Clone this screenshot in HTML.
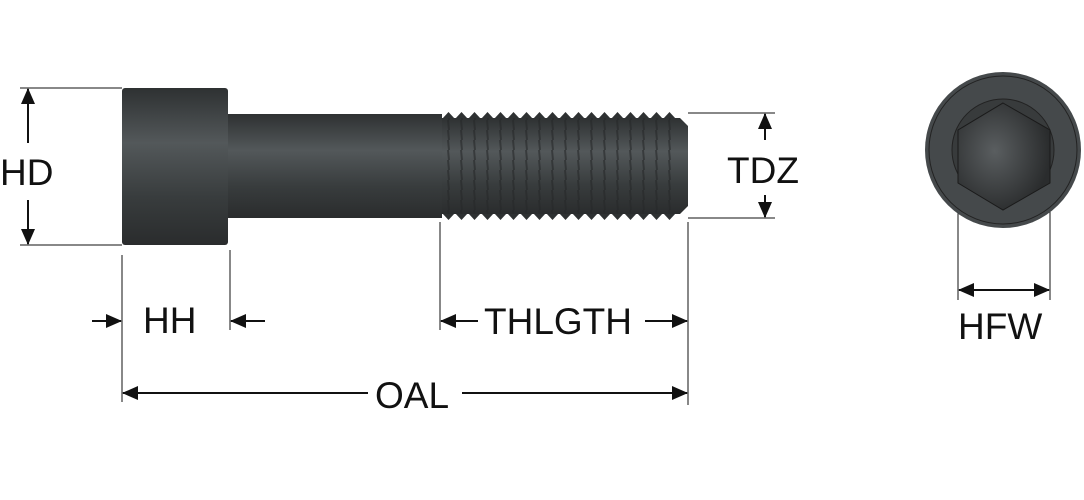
<!DOCTYPE html>
<html><head><style>
html,body{margin:0;padding:0;background:#fff;}
svg{display:block;}
text{font-family:"Liberation Sans",sans-serif;fill:#111;}
</style></head><body>
<svg width="1084" height="500" viewBox="0 0 1084 500" xmlns="http://www.w3.org/2000/svg">
<defs>
<linearGradient id="g" x1="0" y1="0" x2="0" y2="1">
<stop offset="0" stop-color="#2e3132"/><stop offset="0.35" stop-color="#53585a"/><stop offset="0.7" stop-color="#383c3d"/><stop offset="1" stop-color="#2a2c2d"/>
</linearGradient>
<pattern id="tt" x="442" y="0" width="13" height="220" patternUnits="userSpaceOnUse">
<polygon points="0,119 6.5,112 13,119" fill="#2e3132"/>
<polygon points="0,213 6.5,220 13,213" fill="#2e3132"/>
</pattern>
<pattern id="ln" x="442" y="0" width="13" height="10" patternUnits="userSpaceOnUse">
<line x1="6" y1="0" x2="7" y2="10" stroke="#262829" stroke-width="2"/>
</pattern>
<radialGradient id="rg" cx="0.4" cy="0.45" r="0.6"><stop offset="0" stop-color="#5a5e60"/><stop offset="1" stop-color="#2a2c2d"/></radialGradient>
<marker id="a" markerWidth="16" markerHeight="16" refX="15" refY="8" orient="auto" markerUnits="userSpaceOnUse"><path d="M0,1 L16,8 L0,15 z" fill="#111"/></marker>
</defs>
<rect x="122" y="88" width="106" height="157" rx="3" fill="url(#g)"/>
<rect x="228" y="114" width="214" height="104" fill="url(#g)"/>
<rect x="442" y="112" width="234" height="108" fill="url(#tt)"/>
<polygon points="442,118 680,118 688,126 688,206 680,214 442,214" fill="url(#g)"/>
<rect x="442" y="118" width="236" height="96" fill="url(#ln)" opacity="0.6"/>
<g stroke="#111" stroke-width="1" fill="none">
<line x1="20" y1="88" x2="122" y2="88"/><line x1="20" y1="245" x2="122" y2="245"/>
<line x1="688" y1="113" x2="775" y2="113"/><line x1="688" y1="218" x2="775" y2="218"/>
<line x1="122" y1="255" x2="122" y2="402"/><line x1="230" y1="250" x2="230" y2="330"/>
<line x1="440" y1="222" x2="440" y2="330"/><line x1="688" y1="222" x2="688" y2="405"/>
<line x1="958" y1="140" x2="958" y2="300"/><line x1="1050" y1="140" x2="1050" y2="300"/>
</g>
<g stroke="#111" stroke-width="2" fill="none">
<line x1="28" y1="143" x2="28" y2="89" marker-end="url(#a)"/>
<line x1="28" y1="200" x2="28" y2="244" marker-end="url(#a)"/>
<line x1="765" y1="140" x2="765" y2="114" marker-end="url(#a)"/>
<line x1="765" y1="195" x2="765" y2="217" marker-end="url(#a)"/>
<line x1="92" y1="321" x2="121" y2="321" marker-end="url(#a)"/>
<line x1="265" y1="321" x2="231" y2="321" marker-end="url(#a)"/>
<line x1="478" y1="321" x2="441" y2="321" marker-end="url(#a)"/>
<line x1="645" y1="321" x2="687" y2="321" marker-end="url(#a)"/>
<line x1="368" y1="393" x2="123" y2="393" marker-end="url(#a)"/>
<line x1="462" y1="393" x2="687" y2="393" marker-end="url(#a)"/>
<line x1="1004" y1="290" x2="959" y2="290" marker-end="url(#a)"/>
<line x1="1004" y1="290" x2="1049" y2="290" marker-end="url(#a)"/>
</g>
<circle cx="1003" cy="150" r="78" fill="#45494b"/>
<circle cx="1003" cy="150" r="74" fill="none" stroke="#222" stroke-width="1"/>
<circle cx="1003" cy="150" r="51" fill="#383b3c" stroke="#222" stroke-width="1"/>
<polygon points="1003,103 1050,130 1050,183 1003,210 958,183 958,130" fill="url(#rg)" stroke="#1a1a1a" stroke-width="1"/>
<text x="0" y="185" font-size="37">HD</text>
<text x="727" y="183" font-size="37">TDZ</text>
<text x="143" y="333" font-size="37">HH</text>
<text x="484" y="334" font-size="37">THLGTH</text>
<text x="375" y="408" font-size="37">OAL</text>
<text x="958" y="339" font-size="37">HFW</text>
</svg>
</body></html>
